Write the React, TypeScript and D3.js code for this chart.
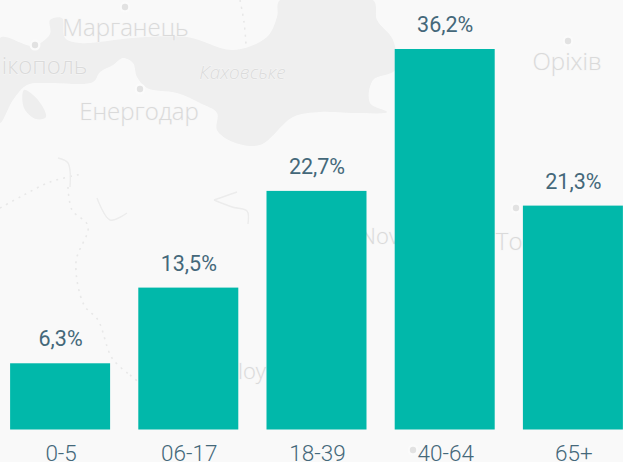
import React from "react";
import * as d3 from "d3";

const categories = ["0-5", "06-17", "18-39", "40-64", "65+"];
const shares = [6.3, 13.5, 22.7, 36.2, 21.3];
const shareLabels = ["6,3%", "13,5%", "22,7%", "36,2%", "21,3%"];

// Decorative faded basemap behind the chart
const waterOutline: [number, number][] = [
  [0, 38], [33, 46], [50, 34], [50, 20], [62, 18], [65, 38], [80, 43], [133, 38], [187, 37], [233, 50], [267, 37], [277, 17], [280, 0],
  [373, 0], [377, 20], [393, 40], [395, 70], [373, 80], [370, 103], [387, 112], [353, 113], [320, 112], [293, 117], [260, 145], [233, 142], [217, 130], [217, 113], [200, 103], [177, 93], [147, 88], [137, 77], [133, 63], [123, 58], [113, 65], [100, 72], [93, 82], [50, 83], [27, 85], [13, 100], [0, 123],
];
const lobeOutline: [number, number][] = [[24, 90], [38, 100], [46, 117], [36, 119], [24, 108]];
const borderLines: [number, number][][] = [
  [[0, 208], [22, 196], [50, 182], [82, 174]],
  [[68, 187], [72, 210], [88, 226], [76, 262], [84, 305], [98, 320], [112, 358], [130, 375]],
  [[240, 0], [244, 22], [246, 44]],
  [[130, 375], [160, 400], [190, 430]],
];
const riverLines: [number, number][][] = [
  [[58, 158], [68, 163], [70, 187]],
  [[97, 198], [110, 220], [127, 213]],
  [[237, 192], [214, 200]],
  [[214, 200], [232, 207], [247, 211], [248, 224]],
];
const mapLabels = [
  { text: "Марганець", x: 125.5, y: 36, size: 24, italic: false },
  { text: "Нікополь", x: 36, y: 74, size: 24, italic: false },
  { text: "Каховське", x: 242.5, y: 79, size: 19, italic: true },
  { text: "Енергодар", x: 139, y: 120, size: 24, italic: false },
  { text: "Оріхів", x: 567, y: 70, size: 24, italic: false },
  { text: "Novo", x: 386, y: 244, size: 22, italic: false },
  { text: "Tok", x: 515, y: 250, size: 24, italic: false },
  { text: "Вloy", x: 245, y: 379, size: 22, italic: false },
];
const mapDots: [number, number][] = [[125, 7], [35, 45], [140, 89], [568, 41], [516, 208], [413, 450]];

const WIDTH = 623;
const HEIGHT = 462;
const TEAL = "#01b8aa";
const SLATE = "#44687a";
const FONT = "Roboto, 'Noto Sans', sans-serif";

export default function App() {
  const x = d3.scaleBand<string>().domain(categories).range([-4, 637]).paddingInner(0.22).paddingOuter(0.11);
  const y = d3.scaleLinear().domain([0, 36.2]).range([429.5, 49]);
  const line = d3.line<[number, number]>().curve(d3.curveCatmullRom.alpha(0.5));
  const closed = d3.line<[number, number]>().curve(d3.curveCatmullRomClosed.alpha(0.5));

  return (
    <svg
      width={WIDTH}
      height={HEIGHT}
      viewBox={`0 0 ${WIDTH} ${HEIGHT}`}
      style={{ position: "fixed", left: 0, top: 0, display: "block", background: "#f9f9f9" }}
    >
      <defs>
        <filter id="soft" x="-5%" y="-5%" width="110%" height="110%">
          <feGaussianBlur stdDeviation="0.7" />
        </filter>
      </defs>
      <rect width={WIDTH} height={HEIGHT} fill="#f9f9f9" />
      <g filter="url(#soft)">
        <path d={closed(waterOutline) ?? ""} fill="#efefef" />
        <path d={closed(lobeOutline) ?? ""} fill="#eeeeee" />
        {borderLines.map((l, i) => (
          <path key={i} d={line(l) ?? ""} fill="none" stroke="#e8e8e8" strokeWidth={1.6} strokeDasharray="2 5" />
        ))}
        {riverLines.map((l, i) => (
          <path key={i} d={line(l) ?? ""} fill="none" stroke="#ececec" strokeWidth={1.4} />
        ))}
        {mapDots.map(([cx, cy], i) => (
          <g key={i}>
            <circle cx={cx} cy={cy} r={5.5} fill="#fbfbfb" />
            <circle cx={cx} cy={cy} r={3.2} fill="#e2e2e2" />
          </g>
        ))}
      </g>
      {mapLabels.map((d) => (
        <text
          key={d.text}
          x={d.x}
          y={d.y}
          textAnchor="middle"
          fontFamily="'Open Sans', sans-serif"
          fontWeight={300}
          fontSize={d.size}
          fontStyle={d.italic ? "italic" : "normal"}
          fill="#dadada"
          stroke="#f6f6f6"
          strokeWidth={1}
          paintOrder="stroke"
        >
          {d.text}
        </text>
      ))}
      {categories.map((c, i) => {
        const bx = x(c) ?? 0;
        const top = y(shares[i]);
        const cx = bx + x.bandwidth() / 2;
        return (
          <g key={c}>
            <rect x={bx} y={top} width={x.bandwidth()} height={y(0) - top} fill={TEAL} />
            <text
              x={cx + 0.5}
              y={top - 17}
              textAnchor="middle"
              fontFamily={FONT}
              fontSize={21.5}
              fontWeight={400}
              fill={SLATE}
            >
              {shareLabels[i]}
            </text>
            <text
              x={cx + 1}
              y={460.5}
              textAnchor="middle"
              fontFamily={FONT}
              fontSize={22.5}
              fontWeight={300}
              fill={SLATE}
            >
              {c}
            </text>
          </g>
        );
      })}
    </svg>
  );
}
